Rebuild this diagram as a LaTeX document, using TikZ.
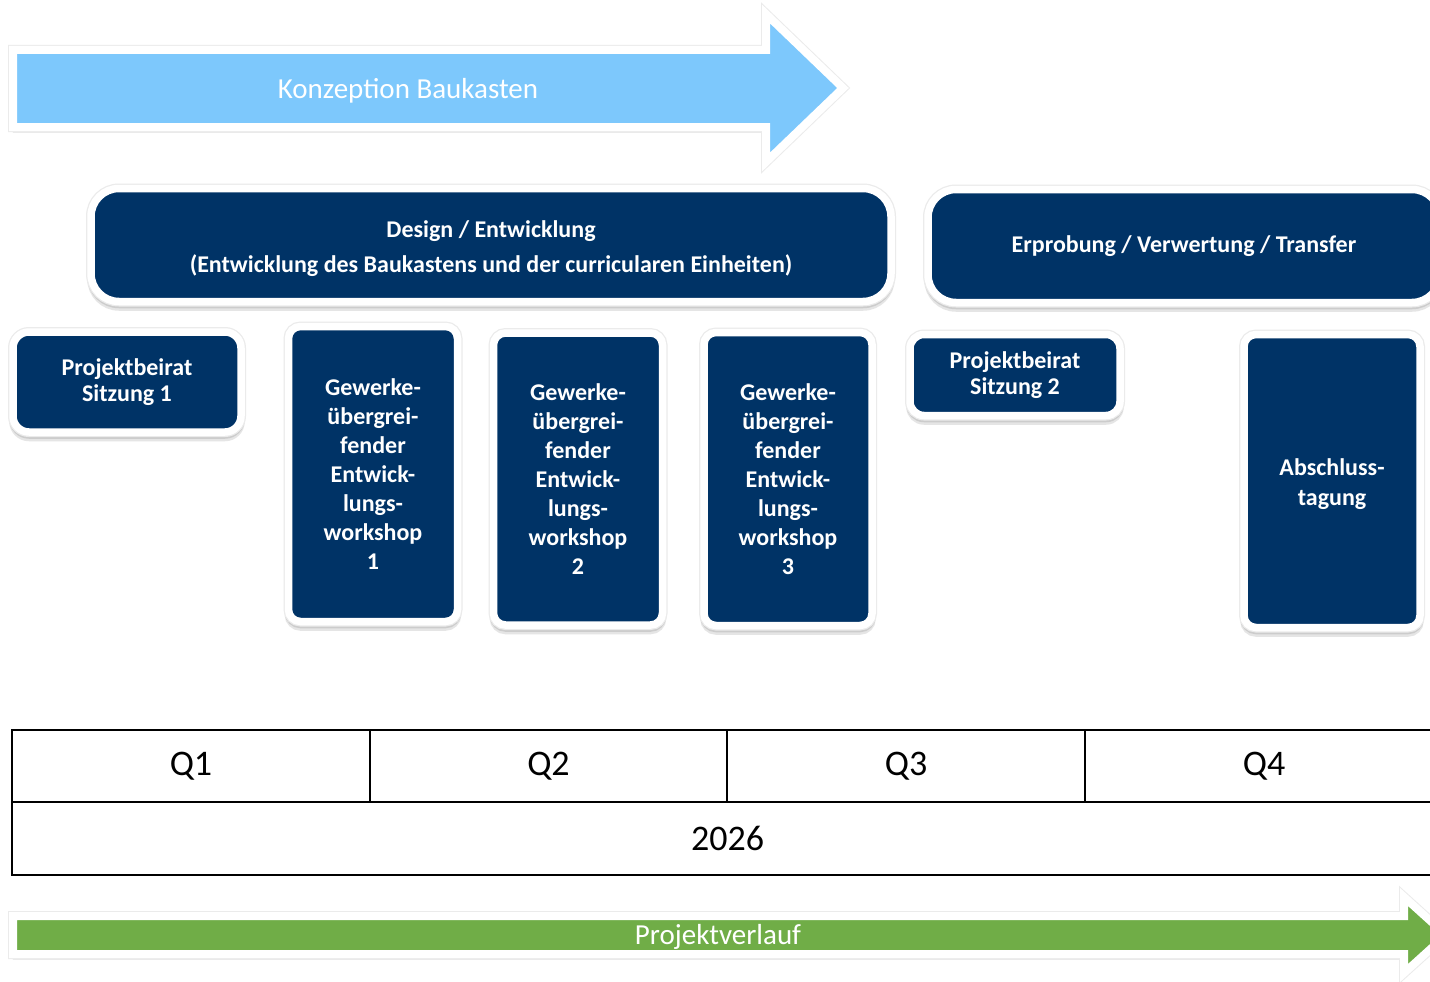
\documentclass[tikz,border=0pt]{standalone}
\usepackage{fontspec}
\setmainfont{Carlito}
\definecolor{navy}{RGB}{0,51,102}
\definecolor{sky}{RGB}{125,200,252}
\definecolor{grn}{RGB}{112,173,71}
\begin{document}
\begin{tikzpicture}[x=1pt,y=-1pt,
  shadowed/.style={preaction={fill=black!10, draw=black!10, transform canvas={yshift=-5.5pt}},
                   preaction={fill=black!20, draw=black!20, transform canvas={yshift=-3pt}},
                   preaction={draw=black!8, line width=10pt}},
  box/.style={shadowed, fill=navy, draw=white, line width=7.5pt, rounded corners=22pt,
    text=white, font=\bfseries\fontsize{24}{29}\selectfont, align=center, inner sep=0pt},
  tall/.style={box, rounded corners=12pt},
  arrowshape/.style={shadowed, draw=white, line width=8pt, line join=miter},
  arrowtext/.style={text=white, font=\fontsize{29}{34}\selectfont, inner sep=0pt},
  cell/.style={draw=black, line width=2.5pt, inner sep=0pt, font=\fontsize{36}{40}\selectfont}]
\clip (0,0) rectangle (1430,982);
\fill[white] (0,0) rectangle (1430,982);

% top arrow
\draw[arrowshape, fill=sky] (13,50) -- (766,50) -- (766,14) -- (843,88) -- (766,162) -- (766,127) -- (13,127) -- cycle;
\node[arrowtext] (konz) at (408,91) {Konzeption Baukasten};

% phase boxes
\node[box, rounded corners=28pt, minimum width=800pt, minimum height=113pt, font=\bfseries\fontsize{24}{35}\selectfont] (design) at (491,245)
  {\rule{0pt}{25pt}Design / Entwicklung\\(Entwicklung des Baukastens und der curricularen Einheiten)};
\node[box, rounded corners=28pt, minimum width=512pt, minimum height=113pt] (erprob) at (1184,246)
  {Erprobung / Verwertung / Transfer};

% milestone boxes
\node[box, font=\bfseries\fontsize{24}{26}\selectfont, rounded corners=16pt, minimum width=228pt, minimum height=100pt] (pb1) at (127,382)
  {Projektbeirat\\Sitzung 1};
\node[tall, minimum width=169pt, minimum height=295pt] (ws1) at (373,474)
  {Gewerke-\\übergrei-\\fender\\Entwick-\\lungs-\\workshop\\1};
\node[tall, minimum width=169pt, minimum height=292pt] (ws2) at (578,479)
  {Gewerke-\\übergrei-\\fender\\Entwick-\\lungs-\\workshop\\2};
\node[tall, minimum width=168pt, minimum height=293pt] (ws3) at (788,479)
  {Gewerke-\\übergrei-\\fender\\Entwick-\\lungs-\\workshop\\3};
\node[box, font=\bfseries\fontsize{24}{26}\selectfont, rounded corners=14pt, minimum width=210pt, minimum height=81pt] (pb2) at (1015,375)
  {Projektbeirat\\Sitzung 2};
\node[tall, font=\bfseries\fontsize{24}{30}\selectfont, minimum width=176pt, minimum height=293pt] (absch) at (1332,481)
  {\rule{0pt}{24pt}Abschluss-\\tagung};

% timeline table
\node[cell, minimum width=358pt, minimum height=72pt] (q1) at (191,766) {Q1};
\node[cell, minimum width=357pt, minimum height=72pt] (q2) at (548.5,766) {Q2};
\node[cell, minimum width=358pt, minimum height=72pt] (q3) at (906,766) {Q3};
\node[cell, minimum width=358pt, minimum height=72pt] (q4) at (1264,766) {Q4};
\node[cell, minimum width=1431pt, minimum height=73pt] (year) at (727.5,838.5) {2026};

% bottom arrow
\draw[arrowshape, fill=grn] (13,916) -- (1404,916) -- (1404,897) -- (1446,935) -- (1404,973) -- (1404,954) -- (13,954) -- cycle;
\node[arrowtext] (verlauf) at (718,937) {Projektverlauf};
\end{tikzpicture}
\end{document}
